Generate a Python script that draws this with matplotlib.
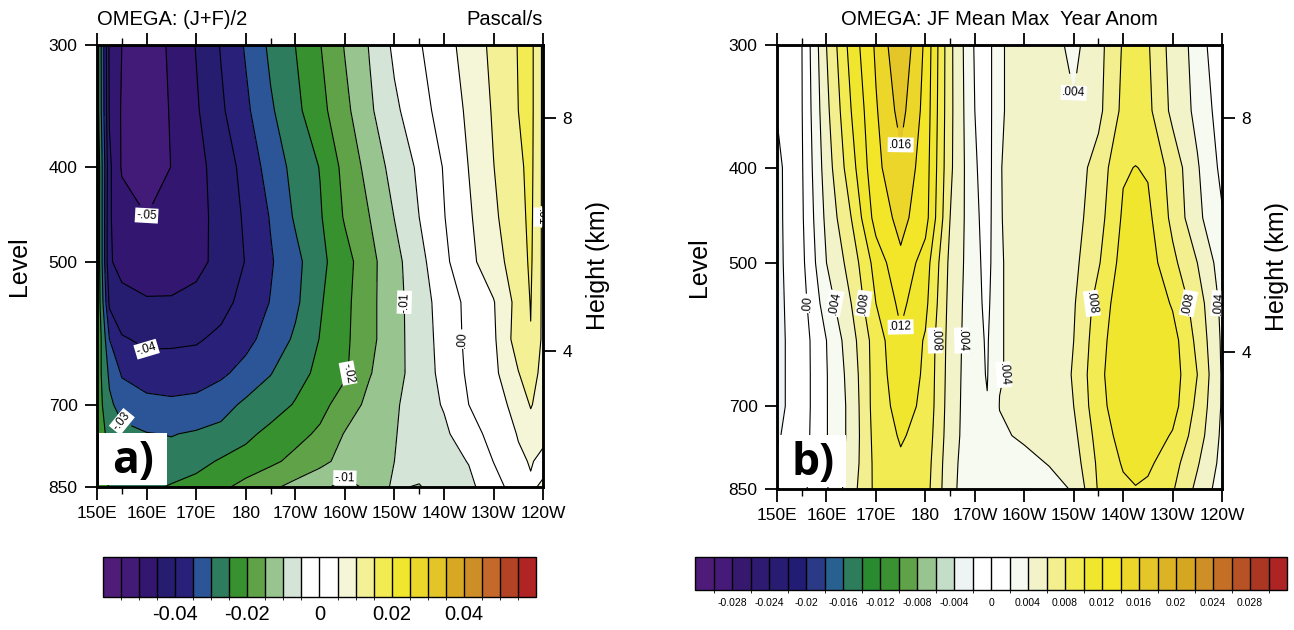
import numpy as np
import matplotlib
matplotlib.use('Agg')
import matplotlib.pyplot as plt
from matplotlib.colors import ListedColormap, BoundaryNorm
from matplotlib.patches import Rectangle
from matplotlib.ticker import NullLocator, FixedLocator

plt.rcParams['font.family'] = ['Liberation Sans', 'DejaVu Sans']

# pressure levels (hPa), top to bottom
plev = [300, 350, 400, 450, 500, 550, 600, 650, 700, 750, 800, 850]

# ---- panel a: OMEGA (J+F)/2, values in 1e-3 Pa/s
lon_a = [150, 152.5, 155, 160, 165, 170, 175, 180, 185, 190, 195, 200,
         205, 210, 215, 220, 225, 230, 235, 237.5, 240]
omega_a = np.array([
    [-22, -46, -50, -53.5, -49, -44.8, -39.7, -34.5, -29, -25, -20.2, -14.7, -9.7, -4, -0.4, 3.1, 7, 11.2, 15.2, 16.5, 9],
    [-22, -45.5, -50.5, -54, -49.5, -45.6, -40.8, -36, -30.7, -26.3, -21.6, -16.3, -10.8, -6, -1.8, 1.8, 5.9, 10.5, 15, 16.5, 9],
    [-20, -44, -50.5, -53, -49.9, -46.8, -42.5, -38.5, -32.8, -28.5, -24.8, -18.5, -13.2, -8.2, -4.2, 0.3, 5.1, 9.9, 14, 16.3, 9],
    [-20, -44.5, -47.8, -49.9, -49, -46.8, -43.2, -39.3, -34.7, -29.4, -25.5, -19.5, -15, -9.9, -5, -0.2, 4.3, 9.1, 13.5, 16, 9],
    [-20, -44.5, -46.5, -47.8, -47.5, -46.4, -43.5, -39.8, -35.5, -31.5, -26.3, -21.9, -16.5, -11.6, -6.6, -1.1, 3.7, 7.8, 12.8, 15.7, 9],
    [-20, -41, -43.5, -44.5, -44.5, -43.5, -41.5, -38.5, -34.8, -31, -25.5, -21.3, -16.3, -11.8, -7.3, -2.8, 1.3, 4.7, 11.8, 15.2, 9],
    [-20, -35, -39.5, -41, -40.8, -40.5, -39, -36.3, -33.2, -29.2, -24.8, -21, -16.3, -11.8, -7.5, -3.2, 1.2, 4.2, 12.5, 14.8, 9],
    [-22, -31, -35.5, -37.5, -37.8, -37.5, -35.8, -33.5, -30.2, -27, -23.7, -20.7, -15.3, -11.8, -7.6, -3.6, 0.8, 3.8, 9.8, 12.8, 8],
    [-22, -29, -32, -33.5, -34, -33.5, -32, -29, -27.5, -24.6, -21.5, -17.8, -13.6, -10.7, -7.4, -4.6, 0, 2.9, 6.7, 10.4, 7.5],
    [-22, -26.5, -28.5, -29.8, -30.2, -29.5, -28.5, -26.3, -23.5, -21.5, -19.2, -14.7, -12.3, -10.2, -8.3, -6, -1.9, 1.5, 5.3, 7.5, 6],
    [-21, -26, -27.5, -28, -28.3, -26.5, -24.5, -22.8, -21, -18.7, -16.2, -13.5, -11.7, -10, -8.6, -6.8, -4.8, 0.1, 4.2, 5.3, 4],
    [-20, -25.5, -27, -26.2, -24.5, -23.3, -21, -18.5, -16, -13.5, -11.5, -8, -11.2, -9.7, -10.2, -8.5, -6.2, -2, 2.5, 4.5, 5.5],
]) / 1000.0

# ---- panel b: OMEGA JF mean, max year anomaly, values in 1e-3 Pa/s
lon_b = [150, 155, 160, 165, 170, 175, 180, 185, 190, 192.5, 195, 200,
         205, 210, 215, 220, 222.5, 225, 230, 235, 240]
omega_b = np.array([
    [-1.0, -0.05, 6.0, 10.8, 14.3, 17.8, 13.6, 6.5, 1.8, 1.0, 3.8, 4.8, 4.8, 3.5, 5.3, 8.2, 8.4, 8.2, 5.2, 3.3, 0.0],
    [-1.9, -0.1, 5.5, 10.0, 13.8, 16.7, 13.3, 6.5, 2.0, 1.0, 3.8, 4.8, 4.8, 4.2, 5.5, 8.5, 8.7, 8.5, 5.5, 3.5, 1.0],
    [-2.5, -0.2, 5.0, 9.2, 13.5, 15.5, 13.0, 6.4, 2.25, 1.0, 3.9, 5.0, 5.0, 5.0, 6.8, 9.8, 10.05, 9.8, 7.2, 4.2, 1.5],
    [-2.5, -0.3, 4.5, 8.0, 12.8, 14.6, 12.8, 6.0, 2.5, 1.1, 3.9, 4.8, 5.0, 5.2, 7.2, 10.3, 10.6, 10.5, 7.5, 4.5, 2.2],
    [-2.5, -0.5, 4.0, 6.8, 10.8, 13.6, 11.0, 5.5, 2.74, 1.2, 3.9, 4.5, 4.7, 5.5, 7.8, 10.8, 11.2, 11.0, 8.5, 6.0, 3.0],
    [-2.5, -0.8, 3.0, 6.0, 10.0, 12.5, 10.5, 5.3, 2.7, 1.5, 3.9, 4.5, 4.3, 5.8, 8.8, 11.2, 11.5, 11.5, 9.8, 7.0, 3.5],
    [-2.5, -1.0, 2.0, 5.2, 9.0, 11.7, 9.8, 5.2, 2.63, 1.8, 3.9, 4.5, 4.3, 6.0, 9.2, 11.5, 11.8, 11.8, 10.8, 7.5, 3.7],
    [-2.5, -1.0, 1.9, 4.8, 9.0, 11.2, 9.7, 5.1, 2.6, 1.9, 3.9, 4.5, 4.3, 6.2, 9.5, 11.5, 11.8, 11.8, 11.0, 8.0, 3.8],
    [-2.5, -1.0, 1.9, 4.6, 9.0, 10.7, 9.6, 5.0, 2.6, 2.1, 4.05, 4.6, 4.3, 6.0, 9.3, 11.3, 11.6, 11.6, 10.8, 7.5, 3.8],
    [-2.2, -0.9, 1.9, 4.6, 8.8, 10.2, 9.3, 4.9, 2.6, 2.3, 3.7, 4.3, 4.3, 5.5, 8.8, 10.8, 11.2, 11.2, 9.8, 7.0, 3.6],
    [-1.6, -0.7, 1.8, 4.8, 8.6, 9.7, 9.0, 4.7, 2.5, 2.2, 3.2, 3.4, 4.1, 5.0, 8.4, 10.2, 10.6, 10.4, 8.8, 6.2, 3.4],
    [-1.0, -0.5, 1.8, 5.2, 8.5, 9.3, 8.8, 4.6, 2.4, 2.2, 2.8, 2.8, 3.2, 4.2, 8.2, 9.6, 9.9, 9.6, 8.2, 5.5, 3.0],
]) / 1000.0

levels_a = np.linspace(-0.055, 0.055, 23)
levels_b = np.linspace(-0.030, 0.030, 31)

colors_a = ['#4f1c78', '#421a78', '#33166f', '#261c70', '#29207a', '#2b5597',
            '#2d7c5d', '#36912e', '#5fa247', '#98c48f', '#d4e4d6', '#ffffff',
            '#ffffff', '#f5f5d8', '#f3f095', '#f3eb52', '#f1e62e', '#ecd62a',
            '#e4c528', '#d8a822', '#cd8e27', '#c4692a', '#b44224', '#b02524']
colors_b = ['#4e1b78', '#461a78', '#37186f', '#2e1a70', '#281b72', '#221c74',
            '#2b3a86', '#286190', '#2d7d5c', '#2a8a2f', '#3a9131', '#5fa247',
            '#98c48f', '#c4ddc8', '#eef4f3', '#ffffff', '#ffffff', '#f7faf0',
            '#f2f3c8', '#f3ef8e', '#f3eb52', '#f1e62e', '#f3e628', '#ecd62a',
            '#e4c628', '#dcb324', '#d5a620', '#cd8f26', '#c46e26', '#b65226',
            '#ab3622', '#ae2425']

xticks = [150, 160, 170, 180, 190, 200, 210, 220, 230, 240]
xticklabels = ['150E', '160E', '170E', '180', '170W', '160W', '150W',
               '140W', '130W', '120W']
xminor = [155, 185, 215]
yticks = [300, 400, 500, 700, 850]
height_km = [4, 8]

cbar_ticks_a = [-0.04, -0.02, 0, 0.02, 0.04]
cbar_labels_a = ['-0.04', '-0.02', '0', '0.02', '0.04']
cbar_ticks_b = [-0.028, -0.024, -0.02, -0.016, -0.012, -0.008, -0.004, 0,
                0.004, 0.008, 0.012, 0.016, 0.02, 0.024, 0.028]
cbar_labels_b = ['-0.028', '-0.024', '-0.02', '-0.016', '-0.012', '-0.008',
                 '-0.004', '0', '0.004', '0.008', '0.012', '0.016', '0.02',
                 '0.024', '0.028']


def fmt_a(v):
    if abs(v) < 1e-9:
        return '.00'
    return f'{v:.2f}'.replace('0.', '.', 1)


def fmt_b(v):
    if abs(v) < 1e-9:
        return '.00'
    return f'{v:.3f}'.replace('0.', '.', 1)


def std_pressure(z_km):
    # standard atmosphere, hPa
    return 1013.25 * (1 - 2.25577e-5 * z_km * 1000.0) ** 5.25588


def draw_panel(ax, lon, data, levels, colors, label_step, fmt, tag):
    cmap = ListedColormap(colors[1:-1])
    cmap.set_under(colors[0])
    cmap.set_over(colors[-1])
    norm = BoundaryNorm(levels, cmap.N)
    X, P = np.meshgrid(lon, plev)
    cf = ax.contourf(X, P, data, levels=levels, cmap=cmap, norm=norm,
                     extend='both')
    cs = ax.contour(X, P, data, levels=levels, colors='black',
                    linewidths=0.8, negative_linestyles='solid')
    lab_levels = [l for l in cs.levels
                  if np.isclose(l / label_step, round(l / label_step))]
    cl = ax.clabel(cs, levels=lab_levels, fmt=fmt, fontsize=8.5,
                   inline=True, inline_spacing=1)
    for t in cl:
        t.set_bbox(dict(boxstyle='square,pad=0.12', fc='white', ec='none'))

    ax.set_yscale('log')
    ax.set_ylim(850, 300)
    ax.set_xlim(150, 240)
    ax.set_yticks(yticks)
    ax.set_yticklabels([str(v) for v in yticks], fontsize=12.5)
    ax.yaxis.set_minor_locator(NullLocator())
    ax.set_xticks(xticks)
    ax.set_xticklabels(xticklabels, fontsize=12.5)
    ax.xaxis.set_minor_locator(FixedLocator(xminor))
    ax.tick_params(which='major', direction='out', length=9, width=1.3,
                   top=True, right=False, pad=5)
    ax.tick_params(which='minor', direction='out', length=5, width=1.0,
                   top=True, right=False)
    for s in ax.spines.values():
        s.set_linewidth(1.8)
    ax.set_ylabel('Level', fontsize=18, labelpad=13)

    ax2 = ax.twinx()
    ax2.set_yscale('log')
    ax2.set_ylim(850, 300)
    ax2.set_yticks([std_pressure(z) for z in height_km])
    ax2.set_yticklabels([str(z) for z in height_km], fontsize=12.5)
    ax2.yaxis.set_minor_locator(NullLocator())
    ax2.tick_params(direction='out', length=9, width=1.3, pad=5)
    ax2.set_ylabel('Height (km)', fontsize=18, labelpad=10)
    for s in ax2.spines.values():
        s.set_linewidth(1.8)

    ax.add_patch(Rectangle((0.004, 0.004), 0.152, 0.118,
                           transform=ax.transAxes, fc='white', ec='none',
                           zorder=5))
    ax.text(0.08, 0.058, tag, transform=ax.transAxes, fontsize=32,
            fontweight='bold', ha='center', va='center', zorder=6,
            family=['Open Sans', 'DejaVu Sans'])
    return cf


fig = plt.figure(figsize=(12.94, 6.3), dpi=100)

ax_a = fig.add_axes([0.0750, 0.2270, 0.3447, 0.7016])
cf_a = draw_panel(ax_a, lon_a, omega_a, levels_a, colors_a, 0.01, fmt_a, 'a)')
ax_a.text(0.0, 1.045, 'OMEGA: (J+F)/2', transform=ax_a.transAxes,
          fontsize=14.5, ha='left', va='baseline')
ax_a.text(1.0, 1.045, 'Pascal/s', transform=ax_a.transAxes,
          fontsize=14.5, ha='right', va='baseline')

ax_b = fig.add_axes([0.6005, 0.2238, 0.3439, 0.7048])
cf_b = draw_panel(ax_b, lon_b, omega_b, levels_b, colors_b, 0.004, fmt_b, 'b)')
ax_b.text(0.5, 1.045, 'OMEGA: JF Mean Max  Year Anom', transform=ax_b.transAxes,
          fontsize=14.5, ha='center', va='baseline')

cax_a = fig.add_axes([0.0796, 0.0524, 0.3346, 0.0635])
cb_a = fig.colorbar(cf_a, cax=cax_a, orientation='horizontal',
                    extendrect=True, extendfrac=1 / 22, drawedges=True)
cb_a.set_ticks(cbar_ticks_a)
cb_a.set_ticklabels(cbar_labels_a)
cb_a.ax.tick_params(length=0, labelsize=14.5, pad=6)
cb_a.outline.set_linewidth(1.0)
cb_a.dividers.set_linewidth(1.0)

cax_b = fig.add_axes([0.5371, 0.0635, 0.4575, 0.0524])
cb_b = fig.colorbar(cf_b, cax=cax_b, orientation='horizontal',
                    extendrect=True, extendfrac=1 / 30, drawedges=True)
cb_b.set_ticks(cbar_ticks_b)
cb_b.set_ticklabels(cbar_labels_b)
cb_b.ax.tick_params(length=0, labelsize=7.5, pad=6)
cb_b.outline.set_linewidth(1.0)
cb_b.dividers.set_linewidth(1.0)

fig.savefig('out.png', dpi=100)
